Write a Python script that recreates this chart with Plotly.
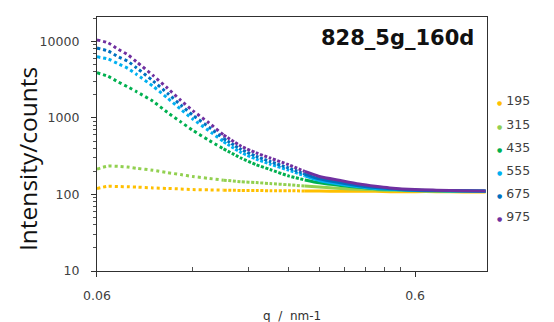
import plotly.graph_objects as go

q = [0.060, 0.065, 0.070, 0.075, 0.080, 0.090, 0.100, 0.110, 0.120, 0.135,
     0.150, 0.170, 0.190, 0.210, 0.240, 0.270, 0.300, 0.350, 0.400, 0.450,
     0.500, 0.600, 0.700, 0.850, 1.000]

s195 = [120, 128, 127, 126, 125, 122, 120, 118, 116, 115,
        114, 113, 113, 112, 112, 111, 111, 110, 110, 110,
        109, 109, 109, 108, 108]
s315 = [215, 235, 233, 228, 220, 207, 193, 182, 172, 162,
        154, 147, 143, 139, 134, 129, 125, 120, 117, 115,
        113, 112, 111, 110, 110]
s435 = [3900, 3500, 2950, 2550, 2200, 1650, 1180, 890, 690, 510,
        395, 300, 245, 212, 175, 155, 142, 131, 124, 119,
        117, 114, 112, 111, 110.5]
s555 = [6300, 5900, 5100, 4450, 3700, 2600, 1820, 1300, 970, 680,
        490, 355, 290, 250, 208, 175, 152, 136, 126, 120,
        117, 113, 112, 111, 110.5]
s675 = [8200, 7500, 6300, 5500, 4500, 3050, 2100, 1480, 1090, 760,
        540, 390, 315, 270, 222, 185, 160, 142, 130, 123,
        119, 114, 113, 112, 111]
s975 = [10500, 9600, 7900, 6700, 5400, 3600, 2450, 1700, 1250, 860,
        600, 430, 350, 300, 245, 200, 172, 152, 137, 128,
        122, 116, 114, 112, 111]

names = ["195", "315", "435", "555", "675", "975"]
series = [s195, s315, s435, s555, s675, s975]
colors = ["#FFC000", "#92D050", "#00B050", "#00B0F0", "#0070C0", "#7030A0"]

title_text = "828_5g_160d"
x_ticks = [0.06, 0.6]
x_tick_text = ["0.06", "0.6"]
x_minor = [0.12, 0.18, 0.24, 0.30, 0.36, 0.42, 0.48, 0.54]
y_ticks = [10, 100, 1000, 10000]
y_tick_text = ["10", "100", "1000", "10000"]
y_minor = [m * d for d in (10, 100, 1000) for m in range(2, 10)] + [20000]

fig = go.Figure()

# each series: sparse-looking dotted part at low q, denser part, then solid band
segments = [(0, 11, "3px,3px"), (10, 16, "3px,1.6px"), (15, len(q), "solid")]
for name, ys, col in zip(names, series, colors):
    for a, b, dash in segments:
        fig.add_trace(go.Scatter(
            x=q[a:b], y=ys[a:b], mode="lines", name=name, showlegend=False,
            line=dict(color=col, width=3, dash=dash, shape="spline", smoothing=0.6),
            hoverinfo="skip"))

# the page body adds an 8px offset; margins compensate so the plot area
# sits at x 97..487, y 17..271 in the browser window
fig.update_layout(
    width=554, height=322,
    margin=dict(l=89, r=75, t=9, b=59),
    paper_bgcolor="white", plot_bgcolor="white",
    showlegend=False,
    font=dict(family="DejaVu Sans", color="#404040", size=12.5),
)

fig.update_xaxes(
    type="log", range=[-1.2218, 0.0043],
    showline=True, linecolor="#303030", linewidth=1.3, mirror=True,
    showgrid=False, zeroline=False,
    tickmode="array", tickvals=x_ticks, ticktext=x_tick_text,
    ticks="outside", ticklen=5, tickcolor="#303030", tickwidth=1.3,
    ticklabelstandoff=8,
    minor=dict(tickmode="array", tickvals=x_minor, ticks="inside", ticklen=4,
               tickcolor="#505050", tickwidth=1, showgrid=False),
    tickfont=dict(size=12.5, color="#404040"),
)
fig.update_yaxes(
    type="log", range=[1, 4.32],
    showline=True, linecolor="#303030", linewidth=1.3, mirror=True,
    showgrid=False, zeroline=False,
    tickmode="array", tickvals=y_ticks, ticktext=y_tick_text,
    ticks="outside", ticklen=5, tickcolor="#303030", tickwidth=1.3,
    ticklabelstandoff=9,
    minor=dict(tickmode="array", tickvals=y_minor, ticks="outside", ticklen=3,
               tickcolor="#505050", tickwidth=1, showgrid=False),
    tickfont=dict(size=12.5, color="#404040"),
)

annotations = [
    dict(text="<b>" + title_text + "</b>", xref="paper", yref="paper",
         x=(476 - 97) / 390, y=(271 - 38) / 254, xanchor="right", yanchor="middle",
         showarrow=False, font=dict(family="DejaVu Sans", size=21, color="#111111")),
    dict(text="Intensity/counts", xref="paper", yref="paper",
         x=(27 - 97) / 390, y=(271 - 159) / 254, xanchor="center", yanchor="middle",
         textangle=-90, showarrow=False,
         font=dict(family="Open Sans", size=24.5, color="#111111")),
    dict(text="q  /  nm-1", xref="paper", yref="paper",
         x=0.5, y=(271 - 316) / 254, xanchor="center", yanchor="middle",
         showarrow=False, font=dict(family="DejaVu Sans", size=12, color="#303030")),
]

leg_y0, leg_dy = 101, 23.2
for i, (name, col) in enumerate(zip(names, colors)):
    annotations.append(dict(
        text="<span style='color:%s;font-size:6px'>●</span> %s" % (col, name),
        xref="paper", yref="paper",
        x=(495 - 97) / 390, y=(271 - (leg_y0 + i * leg_dy)) / 254,
        xanchor="left", yanchor="middle", showarrow=False,
        font=dict(family="DejaVu Sans", size=12.5, color="#404040")))

fig.update_layout(annotations=annotations)
fig.write_html("out.html")
